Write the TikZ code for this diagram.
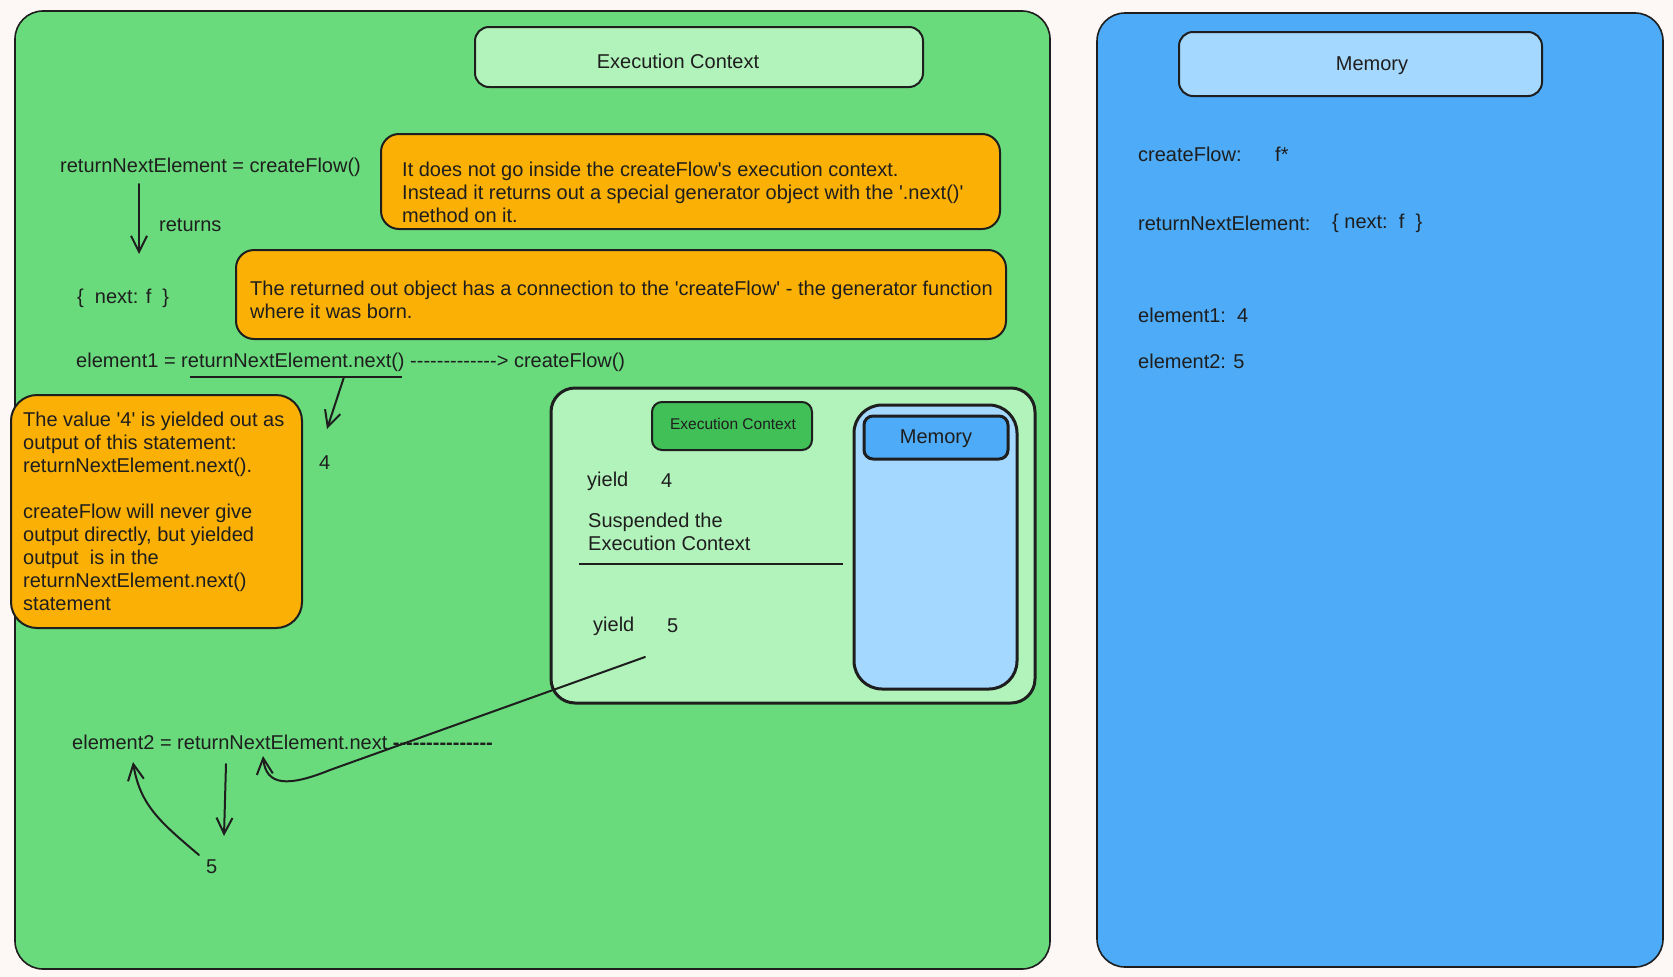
\documentclass[tikz,border=0pt]{standalone}
\usepackage{fontspec}
\setmainfont{Liberation Sans}[Ligatures=TeXOff]
\usetikzlibrary{arrows.meta}
\definecolor{ink}{HTML}{1E1E1E}
\definecolor{bgc}{HTML}{FDF8F6}
\definecolor{gpanel}{HTML}{69DB7C}
\definecolor{bpanel}{HTML}{4DABF7}
\definecolor{orangec}{HTML}{FAB005}
\definecolor{lgreen}{HTML}{B2F2BB}
\definecolor{lblue}{HTML}{A5D8FF}
\definecolor{mgreen}{HTML}{40C057}
\tikzset{
  panel/.style={draw=ink, line width=1.6pt, rounded corners=28pt, anchor=north west, inner sep=0pt, outer sep=0pt},
  box/.style={draw=ink, line width=2pt, rounded corners=18pt, anchor=north west, inner sep=0pt, outer sep=0pt},
  thick box/.style={draw=ink, line width=3pt, rounded corners=24pt, anchor=north west, inner sep=0pt, outer sep=0pt},
  txt/.style={font=\fontsize{20}{23}\selectfont, text=ink, inner sep=0pt, anchor=west, align=left, yshift=-2pt},
  small txt/.style={font=\fontsize{15.5}{18}\selectfont, text=ink, inner sep=0pt},
  conn/.style={draw=ink, line width=2pt, line cap=round, -{Straight Barb[length=16pt,width=16pt,line width=2pt]}},
}
\begin{document}
\begin{tikzpicture}[x=1pt,y=-1pt]
\fill[bgc] (0,0) rectangle (1673,977);
\useasboundingbox (0,0) rectangle (1673,977);

% main panels
\node[panel, fill=gpanel, minimum width=1035pt, minimum height=958pt] (left) at (15,11) {};
\node[panel, fill=bpanel, minimum width=566pt, minimum height=954pt] (right) at (1097,13) {};

% headers
\node[box, fill=lgreen, rounded corners=14pt, minimum width=448pt, minimum height=60pt] (hdrEC) at (475,27) {};
\node[txt, anchor=center] (hdrECt) at (678,59) {Execution Context};
\node[box, fill=lblue, rounded corners=14pt, minimum width=363pt, minimum height=64pt] (hdrMem) at (1179,32) {};
\node[txt, anchor=center] (hdrMemt) at (1372,64) {Memory};

% orange notes
\node[box, fill=orangec, minimum width=619pt, minimum height=95pt] (or1) at (381,134) {};
\node[txt] (or1t) at (402,190) {It does not go inside the createFlow's execution context.\\Instead it returns out a special generator object with the '.next()'\\method on it.};
\node[box, fill=orangec, minimum width=770pt, minimum height=89pt] (or2) at (236,250) {};
\node[txt] (or2t) at (250,297.5) {The returned out object has a connection to the 'createFlow' - the generator function\\where it was born.};
\node[box, fill=orangec, rounded corners=26pt, minimum width=291pt, minimum height=233pt] (or3) at (11,395) {};
\node[txt] (or3t) at (23,509.5) {The value '4' is yielded out as\\output of this statement:\\returnNextElement.next().\\[23pt]createFlow will never give\\output directly, but yielded\\output\ \ is in the\\returnNextElement.next()\\statement};

% inner context
\node[thick box, fill=lgreen, minimum width=484pt, minimum height=315pt] (inner) at (551,388) {};
\node[box, fill=mgreen, rounded corners=10pt, minimum width=160pt, minimum height=48pt] (smallEC) at (652,402) {};
\node[small txt] (smallECt) at (733,424) {Execution Context};
\node[thick box, fill=lblue, rounded corners=28pt, minimum width=163pt, minimum height=284pt] (innerMem) at (854,405) {};
\node[thick box, fill=bpanel, rounded corners=9pt, minimum width=144pt, minimum height=43pt] (innerMemHdr) at (864,416) {};
\node[txt, anchor=center] (innerMemt) at (936,437) {Memory};
\node[txt] (y1) at (587,479) {yield};
\node[txt] (y1v) at (661,479) {4};
\node[txt] (susp) at (588,530) {Suspended the\\Execution Context};
\coordinate (sepA) at (579,564);
\coordinate (sepB) at (843,564);
\draw[ink, line width=2.5pt] (sepA) -- (sepB);
\node[txt] (y2) at (593,624) {yield};
\node[txt] (y2v) at (667,624) {5};

% left column statements
\node[txt] (s1) at (60,165) {returnNextElement = createFlow()};
\coordinate (a1s) at (139,184);
\coordinate (a1e) at (139,254);
\draw[conn] (a1s) -- (a1e);
\node[txt] (ret) at (159,223) {returns};
\node[txt] (obj) at (77,296) {\{\ \ next: f\ \ \}};
\node[txt] (s2) at (76,360) {element1 = returnNextElement.next() -------------> createFlow()};
\coordinate (ulA) at (190,377);
\coordinate (ulB) at (402,377);
\draw[ink, line width=2pt] (ulA) -- (ulB);
\coordinate (a2s) at (344,377);
\coordinate (a2e) at (327,429);
\draw[conn] (a2s) -- (a2e);
\node[txt] (four) at (319,461) {4};

\node[txt] (s3) at (72,740) {element2 = returnNextElement.next \textbf{---------------}};
\coordinate (a3s) at (226,764);
\coordinate (a3e) at (224,836);
\draw[conn] (a3s) -- (a3e);
\node[txt] (five) at (206,865) {5};
\coordinate (a4s) at (199,855);
\coordinate (a4e) at (133,762);
\draw[conn] (a4s) .. controls (160,822) and (140,805) .. (a4e);
\coordinate (a5s) at (645,657);
\coordinate (a5m) at (330,770);
\coordinate (a5e) at (263,756);
\draw[conn] (a5s) -- (a5m) .. controls (288,787) and (266,786) .. (a5e);

% memory panel
\node[txt] (m1) at (1138,152) {createFlow:};
\node[txt] (m1v) at (1275,152) {f*};
\node[txt] (m2) at (1138,221) {returnNextElement:};
\node[txt] (m2v) at (1332,221) {\{ next:\ \ f\ \ \}};
\node[txt] (m3) at (1138,313) {element1:\ \ 4};
\node[txt] (m4) at (1138,359) {element2: 5};
\end{tikzpicture}
\end{document}
